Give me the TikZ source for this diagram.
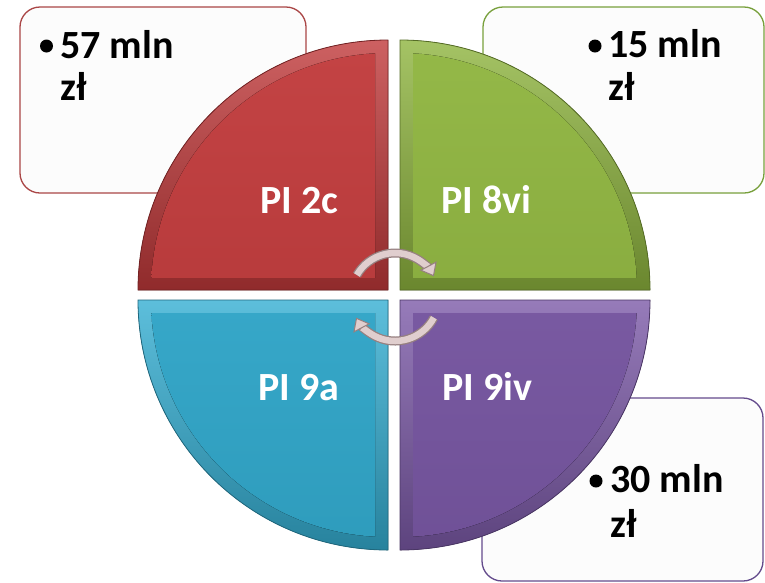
\documentclass[tikz,border=0pt]{standalone}
\usepackage{fontspec}
\setmainfont{Carlito}
\usetikzlibrary{arrows.meta}
\definecolor{redc}{RGB}{192,57,58}
\definecolor{greenc}{RGB}{142,180,62}
\definecolor{bluec}{RGB}{52,174,210}
\definecolor{purplec}{RGB}{124,90,168}
\definecolor{redb}{RGB}{170,70,70}
\definecolor{greenb}{RGB}{120,160,60}
\definecolor{purpleb}{RGB}{100,75,140}
\definecolor{arrlight}{RGB}{224,206,206}
\definecolor{arredge}{RGB}{150,128,128}
\tikzset{
  infobox/.style={fill=white!99!black, line width=1.3pt, rounded corners=20pt},
  boxtxt/.style={inner sep=0pt, anchor=base west, font=\fontsize{40}{43}\selectfont\bfseries, text=black},
  pitxt/.style={inner sep=0pt, anchor=base west, font=\fontsize{40}{43}\selectfont\bfseries, text=white},
  cyclearrow/.style={line width=6.5pt, arrlight, -{Triangle[length=12pt,width=19pt,color=arredge,fill=arrlight,line width=1pt]}},
  cycleedge/.style={line width=9pt, arredge, shorten >=9pt}
}
\begin{document}
\begin{tikzpicture}[x=1pt,y=-1pt]
\useasboundingbox (0,0) rectangle (765,582);
\fill[white] (0,0) rectangle (765,582);
% info boxes (behind the quarters)
\draw[infobox, draw=redb] (20,7) rectangle (306,193);
\draw[infobox, draw=greenb] (483,7) rectangle (764,193);
\draw[infobox, draw=purpleb] (482,398) rectangle (763,581);
% red quarter
\fill[top color=redc!80!white, bottom color=redc!75!black] (388,290) -- (138,290) arc[start angle=180,end angle=270,radius=250] -- cycle;
\begin{scope}
\clip (138,40) rectangle (375,277);
\fill[top color=redc!95!white, bottom color=redc!90!black] (388,290) circle[radius=237];
\end{scope}
\draw[redc!60!black, line width=0.8pt] (388,290) -- (138,290) arc[start angle=180,end angle=270,radius=250] -- cycle;
% green quarter
\fill[top color=greenc!80!white, bottom color=greenc!75!black] (400,290) -- (400,40) arc[start angle=270,end angle=360,radius=250] -- cycle;
\begin{scope}
\clip (413,40) rectangle (650,277);
\fill[top color=greenc!95!white, bottom color=greenc!90!black] (400,290) circle[radius=237];
\end{scope}
\draw[greenc!60!black, line width=0.8pt] (400,290) -- (400,40) arc[start angle=270,end angle=360,radius=250] -- cycle;
% blue quarter
\fill[top color=bluec!80!white, bottom color=bluec!75!black] (388,300) -- (388,550) arc[start angle=90,end angle=180,radius=250] -- cycle;
\begin{scope}
\clip (138,313) rectangle (375,550);
\fill[top color=bluec!95!white, bottom color=bluec!90!black] (388,300) circle[radius=237];
\end{scope}
\draw[bluec!60!black, line width=0.8pt] (388,300) -- (388,550) arc[start angle=90,end angle=180,radius=250] -- cycle;
% purple quarter
\fill[top color=purplec!80!white, bottom color=purplec!75!black] (400,300) -- (650,300) arc[start angle=0,end angle=90,radius=250] -- cycle;
\begin{scope}
\clip (413,313) rectangle (650,550);
\fill[top color=purplec!95!white, bottom color=purplec!90!black] (400,300) circle[radius=237];
\end{scope}
\draw[purplec!60!black, line width=0.8pt] (400,300) -- (650,300) arc[start angle=0,end angle=90,radius=250] -- cycle;
% box texts
\fill (46.5,46) circle[radius=6.5];
\node[boxtxt] (t57) at (60,58) {57 mln};
\node[boxtxt] (t57z) at (60,100) {zł};
\fill (595,46) circle[radius=6.5];
\node[boxtxt] (t15) at (608,57) {15 mln};
\node[boxtxt] (t15z) at (608,100) {zł};
\fill (596,481) circle[radius=6.5];
\node[boxtxt] (t30) at (610,492) {30 mln};
\node[boxtxt] (t30z) at (610,537) {zł};
% quarter labels
\node[pitxt] (p2c) at (260,213) {PI 2c};
\node[pitxt] (p8vi) at (441,213) {PI 8vi};
\node[pitxt] (p9a) at (258,400) {PI 9a};
\node[pitxt] (p9iv) at (442,400) {PI 9iv};
% cycle arrows
\draw[cycleedge] (395,297) ++(-150:44) arc[start angle=-150,end angle=-28,radius=44];
\draw[cyclearrow] (395,297) ++(-150:44) arc[start angle=-150,end angle=-28,radius=44];
\draw[cycleedge] (395,297) ++(28:44) arc[start angle=28,end angle=152,radius=44];
\draw[cyclearrow] (395,297) ++(28:44) arc[start angle=28,end angle=152,radius=44];
\end{tikzpicture}
\end{document}
